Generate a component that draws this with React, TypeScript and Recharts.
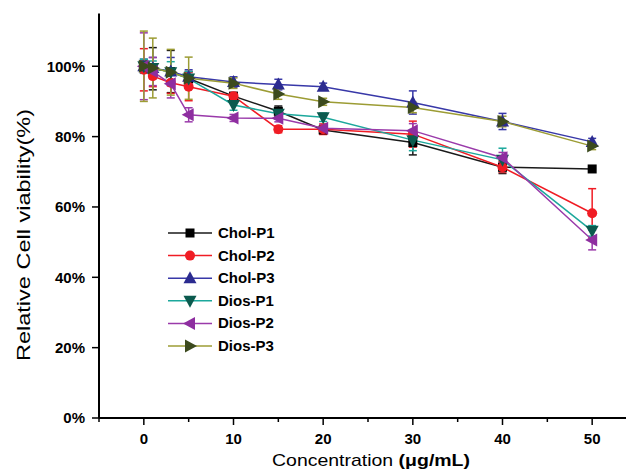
import React from "react";
import { LineChart, Line, XAxis, YAxis, ErrorBar } from "recharts";

const conc = [0, 1, 3, 5, 10, 15, 20, 30, 40, 50];

const cholP1 = [100, 99.3, 98.5, 96.5, 91.5, 87.2, 81.9, 78.3, 71.3, 70.8];
const cholP1Err = [1.5, 6, 6, 2, 1, 1.5, 1, 3.5, 1.8, 0];
const cholP2 = [99, 97.2, 95.3, 94.2, 91.5, 82.1, 82.1, 80.7, 71.3, 58.2];
const cholP2Err = [6, 3, 3, 4, 1, 1, 1.5, 3.7, 1.5, 7];
const cholP3 = [100, 99.5, 98.5, 97, 95.5, 94.8, 94.2, 89.7, 84.3, 78.5];
const cholP3Err = [2, 3, 4, 2, 1.5, 1.5, 1, 3.3, 2.3, 1];
const diosP1 = [100, 99.5, 98.3, 96.5, 89, 86.5, 85.5, 79, 73.4, 53.2];
const diosP1Err = [2, 2, 3, 2, 1.5, 1.5, 1.2, 3, 3.3, 1.5];
const diosP2 = [100, 98.5, 95, 86.2, 85.3, 85.2, 82.4, 81.7, 74, 50.6];
const diosP2Err = [9.5, 4, 4, 2, 1, 1, 1, 2, 1.5, 2.8];
const diosP3 = [100, 99.5, 98.3, 96.6, 95.2, 92.1, 89.9, 88.3, 84.3, 77.3];
const diosP3Err = [10, 8.5, 6.5, 6, 1.5, 1.5, 1, 1.5, 1.5, 1];

const xTicks = [-5, 0, 5, 10, 15, 20, 25, 30, 35, 40, 45, 50, 55];
const yTicks = [0, 20, 40, 60, 80, 100];

const series = [
  { key: "p1", name: "Chol-P1", values: cholP1, err: cholP1Err, line: "#1a1a1a", mark: "#000000", shape: "square" },
  { key: "p2", name: "Chol-P2", values: cholP2, err: cholP2Err, line: "#f01c24", mark: "#f01c24", shape: "circle" },
  { key: "p3", name: "Chol-P3", values: cholP3, err: cholP3Err, line: "#3838a8", mark: "#2b2b90", shape: "up" },
  { key: "d1", name: "Dios-P1", values: diosP1, err: diosP1Err, line: "#1ca89c", mark: "#0b5a4e", shape: "down" },
  { key: "d2", name: "Dios-P2", values: diosP2, err: diosP2Err, line: "#9a3aaa", mark: "#8e2ea0", shape: "left" },
  { key: "d3", name: "Dios-P3", values: diosP3, err: diosP3Err, line: "#9c9c34", mark: "#3c4a1e", shape: "right" },
];

const rows = conc.map((c, i) => {
  const row: Record<string, number> = { conc: c };
  series.forEach((s) => {
    row[s.key] = s.values[i];
    row[s.key + "Err"] = s.err[i];
  });
  return row;
});

const FONT = "Arial, 'Liberation Sans', sans-serif";

function Marker({ cx, cy, shape, fill }: { cx: number; cy: number; shape: string; fill: string }) {
  if (cx == null || cy == null) return null;
  switch (shape) {
    case "square":
      return <rect x={cx - 4.5} y={cy - 4.5} width={9} height={9} fill={fill} />;
    case "circle":
      return <circle cx={cx} cy={cy} r={5} fill={fill} />;
    case "up":
      return <polygon points={`${cx},${cy - 7} ${cx - 6.5},${cy + 5} ${cx + 6.5},${cy + 5}`} fill={fill} />;
    case "down":
      return <polygon points={`${cx},${cy + 7} ${cx - 6.5},${cy - 5} ${cx + 6.5},${cy - 5}`} fill={fill} />;
    case "left":
      return <polygon points={`${cx - 7},${cy} ${cx + 5},${cy - 6.5} ${cx + 5},${cy + 6.5}`} fill={fill} />;
    default:
      return <polygon points={`${cx + 7},${cy} ${cx - 5},${cy - 6.5} ${cx - 5},${cy + 6.5}`} fill={fill} />;
  }
}

function XTick(props: any) {
  const { x, y, payload } = props;
  const v = payload.value;
  const major = v % 10 === 0;
  return (
    <g>
      <line x1={x} x2={x} y1={y} y2={y + (major ? 7 : 4)} stroke="#000" strokeWidth={1.5} />
      {major && v >= 0 && v <= 50 ? (
        <text x={x} y={y + 26} textAnchor="middle" fontFamily={FONT} fontSize={15} fontWeight="bold" fill="#000">
          {v}
        </text>
      ) : null}
    </g>
  );
}

function LegendBox() {
  return (
    <svg width={120} height={140} style={{ position: "absolute", left: 168, top: 222 }}>
      {series.map((s, i) => {
        const cy = 11 + i * 22.6;
        return (
          <g key={s.key}>
            <line x1={0} x2={44} y1={cy} y2={cy} stroke={s.line} strokeWidth={1.5} />
            <Marker cx={22} cy={cy} shape={s.shape} fill={s.mark} />
            <text x={50} y={cy + 5} fontFamily={FONT} fontSize={15} fontWeight="bold" fill="#000">
              {s.name}
            </text>
          </g>
        );
      })}
    </svg>
  );
}

export default function App() {
  return (
    <div style={{ position: "fixed", left: 0, top: 0, width: 626, height: 473, overflow: "hidden", background: "#fff" }}>
      <LineChart width={637} height={473} data={rows} margin={{ top: 13.5, right: 0, bottom: 0, left: 0 }}>
        <XAxis
          dataKey="conc"
          type="number"
          domain={[-5, 55]}
          ticks={xTicks}
          interval={0}
          allowDataOverflow
          height={55}
          tickSize={0}
          tickMargin={0}
          tickLine={false}
          tick={<XTick />}
          axisLine={{ stroke: "#000", strokeWidth: 2 }}
          label={{
            content: () => (
              <text x={371} y={466} textAnchor="middle" fontFamily={FONT} fontSize={17} fill="#000" textLength={198} lengthAdjust="spacingAndGlyphs">
                Concentration <tspan fontWeight="bold">(μg/mL)</tspan>
              </text>
            ),
          }}
        />
        <YAxis
          type="number"
          domain={[0, 115]}
          ticks={yTicks}
          interval={0}
          width={99}
          tickSize={7}
          tickMargin={7}
          tickFormatter={(v) => `${v}%`}
          tick={{ fontFamily: FONT, fontSize: 15, fontWeight: "bold", fill: "#000" }}
          tickLine={{ stroke: "#000", strokeWidth: 1.5 }}
          axisLine={{ stroke: "#000", strokeWidth: 2 }}
          label={{
            content: () => (
              <text
                x={24}
                y={235}
                transform="rotate(-90, 24, 235)"
                textAnchor="middle"
                dominantBaseline="central"
                fontFamily={FONT}
                fontSize={18}
                fill="#000"
                textLength={252}
                lengthAdjust="spacingAndGlyphs"
              >
                Relative Cell viability(%)
              </text>
            ),
          }}
        />
        {series.map((s) => (
          <Line
            key={s.key}
            type="linear"
            dataKey={s.key}
            name={s.name}
            stroke={s.line}
            strokeWidth={1.5}
            isAnimationActive={false}
            activeDot={false}
            dot={(p: any) => <Marker key={`${s.key}-${p.index}`} cx={p.cx} cy={p.cy} shape={s.shape} fill={s.mark} />}
          >
            <ErrorBar dataKey={s.key + "Err"} width={4} stroke={s.line} strokeWidth={1.5} direction="y" />
          </Line>
        ))}
      </LineChart>
      <LegendBox />
    </div>
  );
}
